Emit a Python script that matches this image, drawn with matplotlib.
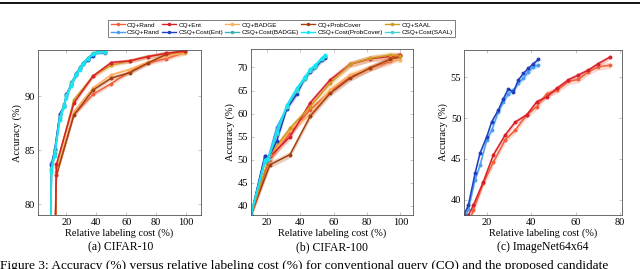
import numpy as np
import matplotlib.pyplot as plt
from matplotlib.lines import Line2D

# ---- CIFAR-10 data (relative labeling cost %, accuracy %) ----
a_csq_x = [9.0, 10, 12.2, 15.6, 18.4, 20, 23.3, 26.7, 28.9, 31.1, 34.4, 37.8, 41.1, 45.6]
a_csq_rand = [70, 83.8, 85.0, 88.3, 89.1, 90.1, 91.2, 92.2, 92.6, 93.1, 93.5, 93.9, 94.1, 94.0]
a_csq_ent = [70, 83.6, 85.1, 88.4, 89.1, 90.2, 91.1, 92.0, 92.6, 93.0, 93.4, 93.8, 94.2, 94.1]
a_csq_badge = [70, 83.2, 84.8, 88.0, 89.3, 90.0, 91.3, 92.1, 92.7, 93.1, 93.6, 94.0, 94.2, 94.1]
a_csq_prob = [70, 83.0, 84.5, 87.8, 89.0, 89.9, 91.0, 92.0, 92.5, 93.0, 93.5, 93.9, 94.2, 94.2]
a_csq_saal = [70, 83.4, 84.9, 88.1, 89.2, 90.1, 91.2, 92.1, 92.6, 93.0, 93.5, 93.9, 94.1, 94.1]

a_cq_x = [11.5, 13.3, 25.0, 37.8, 50, 62.2, 74.4, 86.7, 99.5]
a_cq_rand = [70, 82.7, 88.3, 90.2, 91.2, 92.3, 93.1, 93.5, 94.1]
a_cq_ent = [70, 83.7, 89.4, 91.9, 93.15, 93.3, 93.7, 94.0, 94.2]
a_cq_badge = [70, 83.0, 88.6, 90.8, 92.0, 92.5, 93.2, 93.8, 94.0]
a_cq_prob = [70, 82.7, 88.3, 90.6, 91.7, 92.2, 93.1, 93.9, 94.3]
a_cq_saal = [70, 83.5, 89.7, 91.9, 92.9, 93.3, 93.7, 94.0, 94.1]

# ---- CIFAR-100 data ----
b_csq_x = [10.6, 19, 21, 26, 32, 38, 43, 46, 49, 53, 55]
b_csq_rand = [38, 50.9, 50.5, 57.0, 61.2, 65.0, 67.8, 69.3, 70.0, 71.8, 72.3]
b_csq_ent = [38, 50.9, 50.3, 54.0, 61.0, 64.2, 67.9, 69.1, 70.0, 71.6, 72.1]
b_csq_badge = [38, 49.5, 50.0, 55.5, 61.5, 65.2, 67.5, 69.4, 70.3, 71.9, 72.5]
b_csq_prob = [38, 49.8, 50.2, 56.0, 61.8, 65.5, 68.0, 69.6, 70.5, 72.1, 72.7]
b_csq_saal = [38, 50.0, 50.4, 55.8, 61.4, 65.0, 67.8, 69.3, 70.2, 71.9, 72.4]

b_cq_x = [10.6, 22, 34, 46, 58, 70, 82, 94, 100]
b_cq_rand = [38, 50.0, 55.8, 60.8, 64.8, 68.0, 69.9, 71.3, 72.7]
b_cq_ent = [38, 50.7, 55.0, 62.3, 67.3, 70.7, 71.9, 72.4, 72.7]
b_cq_badge = [38, 50.3, 56.5, 59.7, 65.2, 68.4, 69.9, 71.7, 71.7]
b_cq_prob = [38, 48.9, 51.1, 59.4, 64.4, 67.7, 69.9, 71.8, 72.4]
b_cq_saal = [38, 51.1, 56.8, 61.5, 66.6, 70.7, 72.0, 72.7, 72.5]

# ---- ImageNet64x64 data ----
c_csq_x = [9.8, 11.75, 14.75, 17, 20, 22.25, 25.25, 27.5, 29.75, 32, 34.25, 36.5, 38.75, 41, 43.25]
c_csq_ent = [38.1, 39.3, 43.2, 45.7, 47.7, 49.55, 51.0, 52.4, 53.6, 53.2, 54.7, 55.5, 56.1, 56.7, 57.2]
c_csq_rand = [37.5, 38.8, 42.4, 44.2, 47.3, 48.5, 50.8, 52.0, 53.0, 53.4, 54.3, 54.9, 55.7, 56.3, 56.5]

c_cq_x = [11.75, 14, 18.5, 23, 28.25, 32.75, 38, 42.5, 47, 51.5, 56.75, 61.25, 65.75, 70.25, 75.5]
c_cq_ent = [38.07, 39.3, 42.2, 45.5, 47.9, 49.5, 50.4, 52.0, 52.6, 53.65, 54.7, 55.3, 55.9, 56.7, 57.5]
c_cq_rand = [37.0, 38.7, 42.0, 44.6, 47.3, 48.5, 50.4, 51.4, 53.0, 53.4, 54.5, 54.75, 55.7, 56.3, 56.5]

# colours
col = {
    'CQ+Rand': '#f0603a', 'CQ+Ent': '#d9202a', 'CQ+BADGE': '#fbae60',
    'CQ+ProbCover': '#a4400f', 'CQ+SAAL': '#cf9a1c',
    'CSQ+Rand': '#4a9df0', 'CSQ+Cost(Ent)': '#1f3fbf', 'CSQ+Cost(BADGE)': '#3bb3b0',
    'CSQ+Cost(ProbCover)': '#10e8f8', 'CSQ+Cost(SAAL)': '#45d2d0',
}

plt.rcParams['font.family'] = ['Liberation Serif', 'DejaVu Serif']

fig = plt.figure(figsize=(6.4, 2.69), dpi=100)
ax_a = fig.add_axes([0.0594, 0.2007, 0.2547, 0.613])
ax_b = fig.add_axes([0.392, 0.2007, 0.2535, 0.617])
ax_c = fig.add_axes([0.725, 0.2007, 0.2475, 0.6145])


def draw(ax, x, y, name, band):
    y = np.array(y)
    c = col[name]
    ax.fill_between(x, y - band, y + band, color=c, alpha=0.25, lw=0)
    ax.plot(x, y, color=c, lw=1.1, marker='o', ms=1.8, label=name)


# panel a
for name, y in [('CQ+Rand', a_cq_rand), ('CQ+BADGE', a_cq_badge),
                ('CQ+ProbCover', a_cq_prob), ('CQ+SAAL', a_cq_saal), ('CQ+Ent', a_cq_ent)]:
    draw(ax_a, a_cq_x, y, name, 0.2)
for name, y in [('CSQ+Rand', a_csq_rand), ('CSQ+Cost(Ent)', a_csq_ent),
                ('CSQ+Cost(BADGE)', a_csq_badge), ('CSQ+Cost(SAAL)', a_csq_saal),
                ('CSQ+Cost(ProbCover)', a_csq_prob)]:
    draw(ax_a, a_csq_x, y, name, 0.15)

# panel b
for name, y in [('CQ+Rand', b_cq_rand), ('CQ+BADGE', b_cq_badge),
                ('CQ+ProbCover', b_cq_prob), ('CQ+Ent', b_cq_ent), ('CQ+SAAL', b_cq_saal)]:
    draw(ax_b, b_cq_x, y, name, 0.7)
for name, y in [('CSQ+Rand', b_csq_rand), ('CSQ+Cost(Ent)', b_csq_ent),
                ('CSQ+Cost(BADGE)', b_csq_badge), ('CSQ+Cost(SAAL)', b_csq_saal),
                ('CSQ+Cost(ProbCover)', b_csq_prob)]:
    draw(ax_b, b_csq_x, y, name, 0.5)

# panel c
draw(ax_c, c_cq_x, c_cq_rand, 'CQ+Rand', 0.4)
draw(ax_c, c_cq_x, c_cq_ent, 'CQ+Ent', 0.3)
draw(ax_c, c_csq_x, c_csq_rand, 'CSQ+Rand', 0.3)
draw(ax_c, c_csq_x, c_csq_ent, 'CSQ+Cost(Ent)', 0.2)

limits = [(ax_a, (1, 110), (79.0, 94.3), [20, 40, 60, 80, 100], [80, 85, 90]),
          (ax_b, (10.6, 107.6), (38.0, 74.0), [20, 40, 60, 80, 100], [40, 45, 50, 55, 60, 65, 70]),
          (ax_c, (9.8, 81), (38.1, 58.4), [20, 40, 60, 80], [40, 45, 50, 55])]
for ax, xl, yl, xt, yt in limits:
    ax.set_xlim(*xl)
    ax.set_ylim(*yl)
    ax.set_xticks(xt)
    ax.set_yticks(yt)
    ax.tick_params(direction='in', top=True, right=True, labelsize=7.5,
                   length=2.5, width=0.4, color='#999999', pad=2)
    for s in ax.spines.values():
        s.set_color('#555555')
        s.set_linewidth(0.6)
    ax.set_xlabel('Relative labeling cost (%)', fontsize=7.5, labelpad=1)
    ax.set_ylabel('Accuracy (%)', fontsize=7.5, labelpad=2)

# legend
names = ['CQ+Rand', 'CSQ+Rand', 'CQ+Ent', 'CSQ+Cost(Ent)', 'CQ+BADGE', 'CSQ+Cost(BADGE)',
         'CQ+ProbCover', 'CSQ+Cost(ProbCover)', 'CQ+SAAL', 'CSQ+Cost(SAAL)']
handles = [Line2D([], [], color=col[n], lw=1.0, marker='o', ms=1.5) for n in names]
leg = fig.legend(handles, names, ncol=5, loc='center', bbox_to_anchor=(0.44, 0.894),
                 prop={'family': 'Liberation Sans', 'size': 4.6}, frameon=True,
                 fancybox=False, edgecolor='#444444', borderpad=0.35, handlelength=2.2,
                 handletextpad=0.35, columnspacing=0.35, labelspacing=0.25)
leg.get_frame().set_linewidth(0.6)

# captions
fig.text(0.188, 0.08, '(a) CIFAR-10', ha='center', va='center', fontsize=8.5)
fig.text(0.518, 0.08, '(b) CIFAR-100', ha='center', va='center', fontsize=8.5)
fig.text(0.848, 0.08, '(c) ImageNet64x64', ha='center', va='center', fontsize=8.5)
fig.text(0.0, 0.032, 'Figure 3: Accuracy (%) versus relative labeling cost (%) for conventional query (CQ) and the proposed candidate',
         ha='left', va='top', fontsize=9.6)

# top rule
fig.add_artist(Line2D([0, 1], [0.988, 0.988], color='black', lw=1.3, transform=fig.transFigure))

fig.savefig('out.png', dpi=100)
